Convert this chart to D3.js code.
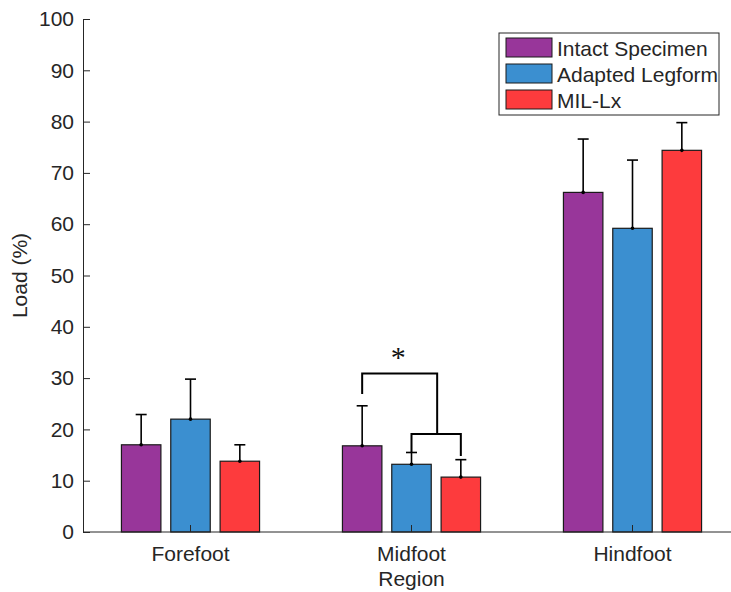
<!DOCTYPE html>
<html lang="en">
<head>
    <meta charset="UTF-8">
    <title>Load by Region</title>
    <script type="text/javascript" src="https://d3js.org/d3.v7.min.js"></script>
    <style>
        body { margin: 0; background: #fff; }
        text { font-family: "Liberation Sans", Arial, Helvetica, sans-serif; fill: #262626; }
        .axis path, .axis line { stroke: #262626; }
    </style>
</head>
<body>
    <svg width="731" height="592"></svg>
    <script type="text/javascript">
        // values (upper error only is visible)
        var regions = ["Forefoot", "Midfoot", "Hindfoot"];
        var seriesNames = ["Intact Specimen", "Adapted Legform", "MIL-Lx"];
        var seriesColors = ["#98369a", "#3b8fd0", "#fd3b3d"];
        var intact = [17.0, 16.8, 66.2];
        var intactErr = [5.9, 7.8, 10.4];
        var adapted = [22.0, 13.2, 59.2];
        var adaptedErr = [7.8, 2.3, 13.3];
        var milLx = [13.8, 10.7, 74.4];
        var milLxErr = [3.2, 3.4, 5.4];
        var yTicks = [0, 10, 20, 30, 40, 50, 60, 70, 80, 90, 100];

        // significance bracket in Midfoot (data units)
        var sigLow = [26.9, 30.9, 19.1];   // left leg bottom, top bar, inner bar
        var sigInnerEnds = [15.6, 14.8];   // blue and red leg bottoms

        var svg = d3.select("svg"),
            width = +svg.attr("width");

        var plotLeft = 83, plotTop = 19, plotBottom = 532;

        var x = d3.scaleBand().domain(regions).range([80, 743]);
        var xSub = d3.scaleBand().domain(seriesNames).range([-74, 74])
            .paddingInner(0.2).paddingOuter(0.1);
        var y = d3.scaleLinear().domain([0, 100]).range([plotBottom, plotTop]);

        var values = [intact, adapted, milLx];
        var errs = [intactErr, adaptedErr, milLxErr];

        var data = [];
        regions.forEach(function(r, i) {
            seriesNames.forEach(function(s, j) {
                data.push({region: r, series: s, color: seriesColors[j],
                           value: values[j][i], err: errs[j][i]});
            });
        });

        function cx(d) { return x(d.region) + x.bandwidth() / 2 + xSub(d.series) + xSub.bandwidth() / 2; }

        var g = svg.append("g");

        // error bars (drawn under bars, only the upper half shows)
        g.selectAll(".err")
            .data(data)
            .enter().append("line")
            .attr("x1", cx).attr("x2", cx)
            .attr("y1", function(d) { return y(d.value); })
            .attr("y2", function(d) { return y(d.value + d.err); })
            .attr("stroke", "#000").attr("stroke-width", 1.6);

        g.selectAll(".cap")
            .data(data)
            .enter().append("line")
            .attr("x1", function(d) { return cx(d) - 5.5; })
            .attr("x2", function(d) { return cx(d) + 5.5; })
            .attr("y1", function(d) { return y(d.value + d.err); })
            .attr("y2", function(d) { return y(d.value + d.err); })
            .attr("stroke", "#000").attr("stroke-width", 1.6);

        g.selectAll(".bar")
            .data(data)
            .enter().append("rect")
            .attr("x", function(d) { return cx(d) - xSub.bandwidth() / 2; })
            .attr("y", function(d) { return y(d.value); })
            .attr("width", xSub.bandwidth())
            .attr("height", function(d) { return y(0) - y(d.value); })
            .attr("fill", function(d) { return d.color; })
            .attr("stroke", "#1a1a1a").attr("stroke-width", 1.2);

        g.selectAll(".dot")
            .data(data)
            .enter().append("circle")
            .attr("cx", cx)
            .attr("cy", function(d) { return y(d.value); })
            .attr("r", 1.8)
            .attr("fill", "#000");

        // axes
        svg.append("g").attr("class", "axis")
            .attr("transform", "translate(0," + plotBottom + ")")
            .call(d3.axisBottom(x).tickSize(-7).tickSizeOuter(0).tickPadding(14))
            .call(function(a) {
                a.select(".domain").remove();
                a.selectAll("text").attr("font-size", 21).style("font-family", null);
            });
        svg.append("line")
            .attr("x1", plotLeft).attr("x2", width)
            .attr("y1", plotBottom).attr("y2", plotBottom)
            .attr("stroke", "#262626");

        svg.append("g").attr("class", "axis")
            .attr("transform", "translate(" + plotLeft + ",0)")
            .call(d3.axisLeft(y).tickValues(yTicks).tickSize(-7).tickSizeOuter(0).tickPadding(9))
            .call(function(a) {
                a.selectAll("text").attr("font-size", 21).style("font-family", null);
            });

        svg.append("text")
            .attr("transform", "translate(27," + (plotTop + plotBottom) / 2 + ") rotate(-90)")
            .attr("text-anchor", "middle")
            .attr("font-size", 21)
            .text("Load (%)");

        svg.append("text")
            .attr("x", x("Midfoot") + x.bandwidth() / 2)
            .attr("y", 586)
            .attr("text-anchor", "middle")
            .attr("font-size", 21)
            .text("Region");

        // significance bracket
        var mid = data.filter(function(d) { return d.region == "Midfoot"; });
        var pA = cx(mid[0]), pB = cx(mid[1]), pC = cx(mid[2]);
        var joint = (pB + pC) / 2 + 1;
        var sig = svg.append("g").attr("fill", "none").attr("stroke", "#000").attr("stroke-width", 2);
        sig.append("path").attr("d",
            "M" + pA + "," + y(sigLow[0]) + "V" + y(sigLow[1]) + "H" + joint + "V" + y(sigLow[2]));
        sig.append("path").attr("d",
            "M" + pB + "," + y(sigInnerEnds[0]) + "V" + y(sigLow[2]) + "H" + pC + "V" + y(sigInnerEnds[1]));

        svg.append("text")
            .attr("x", pA + 36)
            .attr("y", y(sigLow[1]) - 6)
            .attr("text-anchor", "middle")
            .attr("font-size", 30)
            .style("font-family", "'Liberation Serif', 'DejaVu Serif', serif")
            .style("fill", "#111")
            .text("*");

        // legend
        var legend = svg.append("g").attr("transform", "translate(499,33)");
        legend.append("rect")
            .attr("width", 220).attr("height", 82)
            .attr("fill", "#fff").attr("stroke", "#262626").attr("stroke-width", 1);
        var rows = legend.selectAll(".row")
            .data(seriesNames)
            .enter().append("g")
            .attr("transform", function(d, i) { return "translate(7," + (5 + i * 26) + ")"; });
        rows.append("rect")
            .attr("width", 46).attr("height", 19)
            .attr("fill", function(d, i) { return seriesColors[i]; })
            .attr("stroke", "#1a1a1a");
        rows.append("text")
            .attr("x", 51).attr("y", 17.5)
            .attr("font-size", 21)
            .text(function(d) { return d; });
    </script>
</body>
</html>
